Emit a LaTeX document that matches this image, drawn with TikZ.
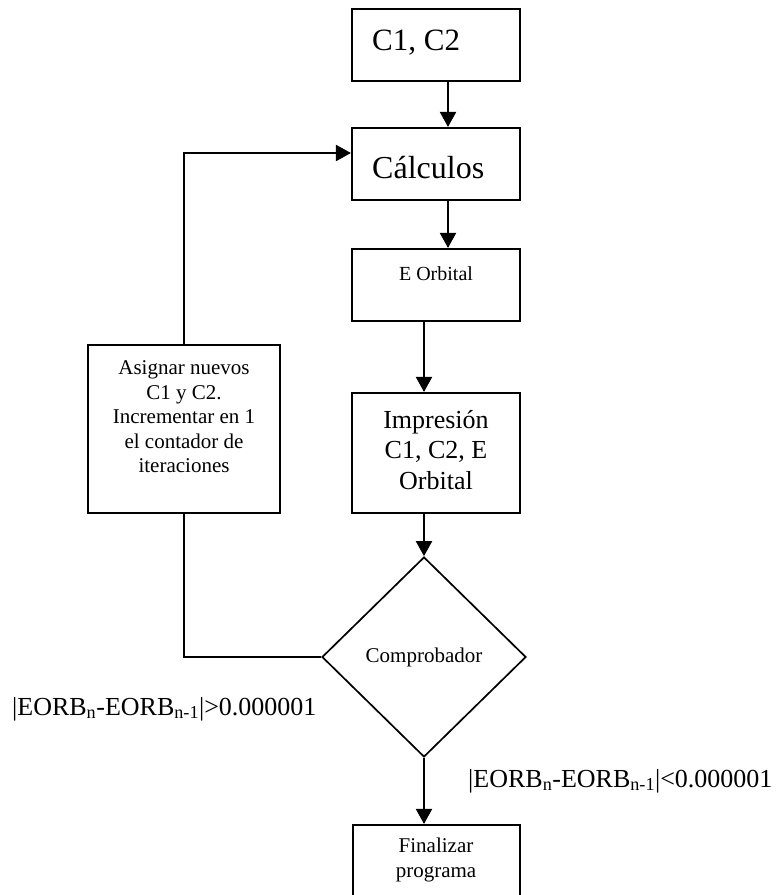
\documentclass[tikz,border=0pt]{standalone}
\usepackage{fontspec}
\setmainfont{Liberation Serif}
\usetikzlibrary{arrows.meta,shapes.geometric}
\newcommand\myfs[2]{\fontsize{#1}{#2}\selectfont}
\begin{document}
\begin{tikzpicture}[x=1pt,y=-1pt,
  box/.style={draw, line width=2.1pt, rectangle, inner sep=0pt},
  conn/.style={line width=2pt},
  arr/.style={conn, -{Triangle[length=15pt,width=16pt]}},
  txt/.style={inner sep=0pt, align=center}]
\useasboundingbox (0,0) rectangle (776,895);
% boxes
\node[box, minimum width=168pt, minimum height=72pt] (c12) at (436,45) {};
\node[box, minimum width=168pt, minimum height=72pt] (calc) at (436,164) {};
\node[box, minimum width=168pt, minimum height=72pt] (eorb) at (436,285) {};
\node[box, minimum width=168pt, minimum height=120pt] (impr) at (436,453) {};
\node[box, minimum width=192pt, minimum height=168pt] (asig) at (184,429) {};
\node[draw, shape=diamond, line width=1.7pt, inner sep=0pt, minimum width=204pt, minimum height=200pt, font=\myfs{21}{25}] (comp) at (424,657) {Comprobador};
\node[box, minimum width=167pt, minimum height=80pt] (fin) at (436.5,865) {};
% texts
\node[txt, anchor=base west, font=\myfs{31}{35}] (t12) at (372,50) {C1, C2};
\node[txt, anchor=base west, font=\myfs{32}{36}] (tcalc) at (372,178) {Cálculos};
\node[txt, anchor=base, font=\myfs{20}{24}] (teorb) at (436,280) {E Orbital};
\node[txt, font=\myfs{26}{30.5}] (timpr) at (436,450) {Impresión\\C1, C2, E\\Orbital};
\node[txt, font=\myfs{21}{24.5}] (tasig) at (184,417) {Asignar nuevos\\C1 y C2.\\Incrementar en 1\\el contador de\\iteraciones};
\node[txt, font=\myfs{21}{25}] (tfin) at (436,860) {Finalizar\\programa};
\node[txt, anchor=base west, font=\myfs{26}{30}] (lgt) at (12,715) {|EORB\textsubscript{n}-EORB\textsubscript{n-1}|>0.000001};
\node[txt, anchor=base west, font=\myfs{26}{30}] (llt) at (468,787) {|EORB\textsubscript{n}-EORB\textsubscript{n-1}|<0.000001};
% connectors
\draw[arr] ([xshift=12pt]c12.south) -- ([xshift=12pt]calc.north);
\draw[arr] ([xshift=12pt]calc.south) -- ([xshift=12pt]eorb.north);
\draw[arr] ([xshift=-12pt]eorb.south) -- ([xshift=-12pt]impr.north);
\draw[arr] ([xshift=-12pt]impr.south) -- (comp.north);
\draw[arr] (comp.south) -- (comp.south |- fin.north);
\draw[conn] (comp.west) -| (asig.south);
\draw[arr] (asig.north) |- ([yshift=11pt]calc.west);
\end{tikzpicture}
\end{document}
